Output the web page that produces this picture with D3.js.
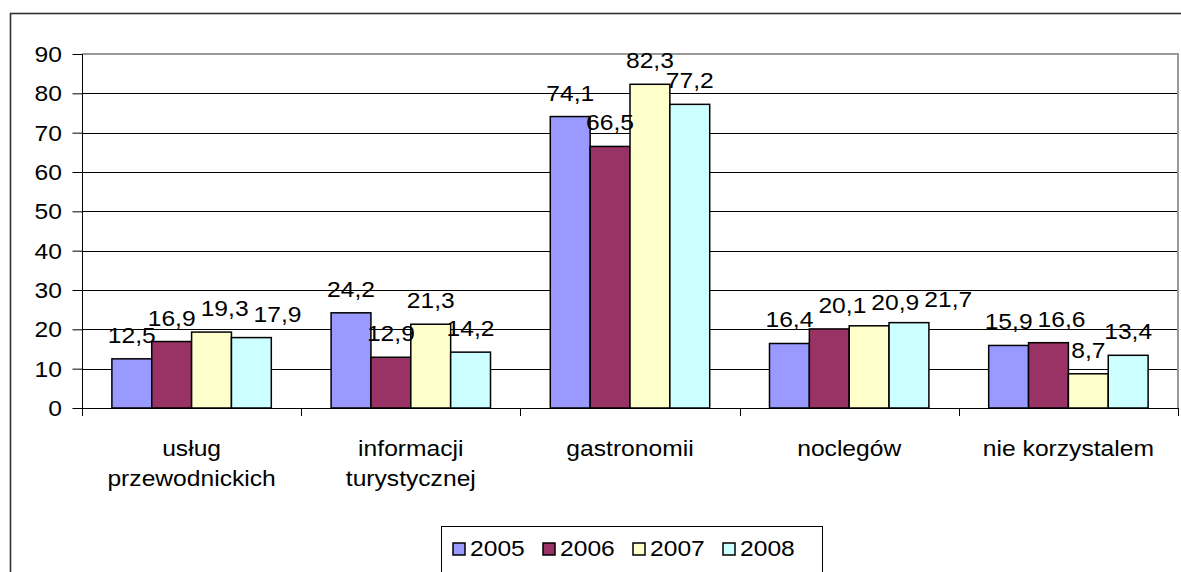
<!DOCTYPE html>
<html>
<head>
<meta charset="utf-8">
<script src="https://cdn.jsdelivr.net/npm/d3@7/dist/d3.min.js"></script>
<style>
  html, body { margin: 0; padding: 0; background: #fff; }
  svg { display: block; font-family: Arial, "Liberation Sans", sans-serif; }
</style>
</head>
<body>
<svg id="chart" width="1181" height="572"></svg>
<script>
// Categories (two-line labels), series and values
const categories = [
  ["usług", "przewodnickich"],
  ["informacji", "turystycznej"],
  ["gastronomii"],
  ["noclegów"],
  ["nie korzystalem"]
];
const years = ["2005", "2006", "2007", "2008"];
const colors = ["#9999FF", "#993366", "#FFFFCC", "#CCFFFF"];
const v2005 = [12.5, 24.2, 74.1, 16.4, 15.9];
const v2006 = [16.9, 12.9, 66.5, 20.1, 16.6];
const v2007 = [19.3, 21.3, 82.3, 20.9, 8.7];
const v2008 = [17.9, 14.2, 77.2, 21.7, 13.4];
const yTicks = [0, 10, 20, 30, 40, 50, 60, 70, 80, 90];

const series = [v2005, v2006, v2007, v2008];
const fmt = v => String(v).replace(".", ",");

const svg = d3.select("#chart");
const plot = { left: 82, right: 1178, top: 54, bottom: 408 };
const FS = 22;   // font size
const SX = 1.12; // horizontal stretch applied to all text

function label(g, x, y, text, size, anchor) {
  return g.append("text")
    .attr("transform", `translate(${x},${y}) scale(${SX},1)`)
    .attr("text-anchor", anchor || "middle")
    .attr("font-size", size)
    .attr("fill", "#000")
    .text(text);
}

// outer chart frame
svg.append("rect")
  .attr("x", 10.5).attr("y", 13.5)
  .attr("width", 1200).attr("height", 600)
  .attr("fill", "none").attr("stroke", "#333").attr("stroke-width", 1.6);

const x0 = d3.scaleBand().domain(d3.range(categories.length))
  .range([plot.left, plot.right]).padding(0);
const gap = x0.bandwidth() * 0.6 / 2.2 / 2;
const x1 = d3.scaleBand().domain(d3.range(years.length))
  .range([gap, x0.bandwidth() - gap]).padding(0);
const y = d3.scaleLinear().domain([0, 90]).range([plot.bottom, plot.top]);

// horizontal gridlines
svg.append("g").selectAll("line").data(yTicks.filter(t => t > 0 && t < 90)).join("line")
  .attr("x1", plot.left).attr("x2", plot.right)
  .attr("y1", d => Math.round(y(d)) + 0.5).attr("y2", d => Math.round(y(d)) + 0.5)
  .attr("stroke", "#000").attr("stroke-width", 1);

// plot area border (top / right)
svg.append("path")
  .attr("d", `M${plot.left},${plot.top} H${plot.right} V${plot.bottom}`)
  .attr("fill", "none").attr("stroke", "#999").attr("stroke-width", 2);

// y axis
const yAxis = d3.axisLeft(y).tickValues(yTicks).tickSize(10).tickFormat("");
const gy = svg.append("g").attr("transform", `translate(${plot.left + 0.5},0)`).call(yAxis);
gy.select(".domain").attr("stroke", "#000").attr("d", `M0,${plot.top}V${plot.bottom + 8}`);
gy.selectAll(".tick line").attr("stroke", "#000");
yTicks.forEach(t => label(svg, 62, y(t) + 8, String(t), FS, "end"));

// x axis baseline and category separators
svg.append("line")
  .attr("x1", plot.left).attr("x2", plot.right)
  .attr("y1", plot.bottom + 0.5).attr("y2", plot.bottom + 0.5)
  .attr("stroke", "#000");
const bounds = d3.range(categories.length + 1).map(i => plot.left + i * x0.step());
svg.append("g").selectAll("line").data(bounds).join("line")
  .attr("x1", d => Math.round(d) + 0.5).attr("x2", d => Math.round(d) + 0.5)
  .attr("y1", plot.bottom).attr("y2", plot.bottom + 8)
  .attr("stroke", "#000");

// category labels
categories.forEach((lines, i) => {
  const cx = x0(i) + x0.bandwidth() / 2;
  lines.forEach((t, j) => label(svg, cx, 456 + j * 30, t, FS));
});

// bars
const groups = svg.append("g").selectAll("g").data(categories).join("g")
  .attr("transform", (d, i) => `translate(${x0(i)},0)`);
groups.each(function (d, ci) {
  const g = d3.select(this);
  series.forEach((vals, si) => {
    g.append("rect")
      .attr("x", x1(si)).attr("width", x1.bandwidth())
      .attr("y", y(vals[ci])).attr("height", y(0) - y(vals[ci]))
      .attr("fill", colors[si]).attr("stroke", "#000").attr("stroke-width", 1.5);
  });
});

// value labels: above each bar; pushed sideways when they would collide with the previous one
const capH = 16;
const pad = 5;
const textW = s => [...s].reduce((a, c) => a + (c === "," ? 0.278 : 0.556), 0) * FS * SX;
groups.each(function (d, ci) {
  const g = d3.select(this);
  let prev = null;
  series.forEach((vals, si) => {
    const text = fmt(vals[ci]);
    const w = textW(text);
    let cx = x1(si) + x1.bandwidth() / 2;
    const base = y(vals[ci]) - 16;
    if (prev && base > prev.base - capH && base - capH < prev.base &&
        cx - w / 2 < prev.cx + prev.w / 2 + pad) {
      cx = prev.cx + prev.w / 2 + pad + w / 2;
    }
    label(g, cx, base, text, FS);
    prev = { cx, w, base };
  });
});

// legend
const lg = svg.append("g");
lg.append("rect").attr("x", 441.5).attr("y", 526.5).attr("width", 381).attr("height", 80)
  .attr("fill", "#fff").attr("stroke", "#000").attr("stroke-width", 1);
const itemW = 90;
years.forEach((yr, i) => {
  const ix = 453 + i * itemW;
  lg.append("rect").attr("x", ix).attr("y", 543).attr("width", 12).attr("height", 12)
    .attr("fill", colors[i]).attr("stroke", "#000").attr("stroke-width", 1.5);
  label(lg, ix + 17, 556, yr, FS, "start");
});
</script>
</body>
</html>
